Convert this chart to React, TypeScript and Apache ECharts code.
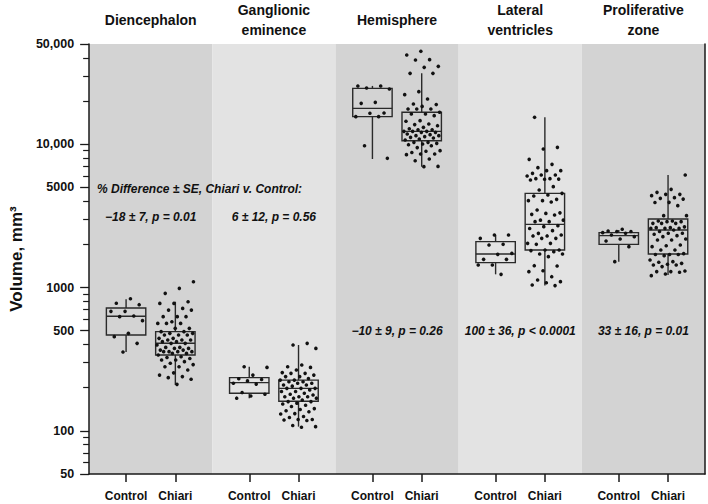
import React, { useEffect, useRef } from 'react';
import * as echarts from 'echarts';

// ---------- data ----------
const regions = ['Diencephalon', 'Ganglionic\neminence', 'Hemisphere', 'Lateral\nventricles', 'Proliferative\nzone'];
const groupLabels = ['Control', 'Chiari'];

const headerText = '% Difference ± SE, Chiari v. Control:';
const headerLevel = 4900;
const annotations = ['−18 ± 7, p = 0.01', '6 ± 12, p = 0.56', '−10 ± 9, p = 0.26', '100 ± 36, p < 0.0001', '33 ± 16, p = 0.01'];
const annotationLevels = [3100, 3100, 500, 500, 500];

// box statistics: [lower whisker, Q1, median, Q3, upper whisker] (mm³)
const controlBoxes = [
  [355, 466, 630, 719, 828],
  [169, 183, 217, 235, 280],
  [7880, 15560, 17790, 24530, 25500],
  [1236, 1491, 1713, 2089, 2325],
  [1515, 2001, 2301, 2414, 2520],
];
const chiariBoxes = [
  [209, 338, 408, 492, 796],
  [107, 161, 198, 226, 397],
  [6970, 10580, 12290, 16690, 31200],
  [1031, 1827, 2759, 4541, 15400],
  [1223, 1713, 2520, 3007, 6096],
];

// individual volumes (mm³)
const diencephalonControl = [835, 776, 759, 682, 682, 633, 626, 587, 479, 454, 408, 355];
const diencephalonChiari = [1098, 987, 911, 796, 775, 775, 715, 696, 696, 626, 626, 626, 577, 562, 562, 562, 519, 519, 492, 492, 479, 479, 466, 466, 466, 442, 442, 430, 430, 430, 419, 419, 408, 408, 397, 382, 382, 376, 376, 366, 366, 357, 357, 357, 357, 347, 347, 338, 329, 325, 320, 312, 312, 304, 296, 290, 280, 280, 266, 254, 245, 239, 235, 229, 211];
const ganglionicControl = [280, 277, 245, 231, 228, 223, 215, 212, 185, 180, 175, 169];
const ganglionicChiari = [408, 397, 376, 288, 280, 277, 266, 255, 252, 252, 245, 239, 239, 232, 226, 226, 220, 220, 215, 215, 209, 209, 205, 198, 198, 198, 193, 188, 188, 183, 180, 178, 173, 173, 173, 169, 169, 164, 160, 160, 156, 154, 151, 148, 143, 141, 138, 136, 132, 131, 126, 124, 120, 120, 119, 118, 109, 107, 106];
const hemisphereControl = [25460, 25460, 24650, 24250, 19590, 19280, 16500, 16450, 15560, 15560, 9760, 7970];
const hemisphereChiari = [44460, 41920, 38900, 38670, 34920, 34370, 31200, 31200, 23250, 22150, 20670, 19080, 18900, 18350, 17600, 17600, 17600, 16690, 16240, 16240, 15810, 14590, 14460, 13830, 13700, 13460, 13110, 12820, 12620, 12620, 12290, 12290, 12290, 12100, 12100, 11770, 11650, 11470, 11470, 11300, 11160, 11050, 10870, 10700, 10300, 10300, 10140, 10030, 9920, 9760, 9470, 9010, 8920, 8750, 8540, 8540, 8450, 7880, 7670, 7000, 6970];
const lateralControl = [2325, 2325, 2203, 2002, 1980, 1730, 1704, 1573, 1573, 1436, 1436, 1236];
const lateralChiari = [15400, 9509, 9256, 7839, 7236, 6859, 6535, 6535, 6260, 6097, 6097, 6000, 5750, 5750, 5710, 5690, 5626, 5054, 4791, 4541, 4422, 4351, 4122, 4036, 4036, 3950, 3474, 3320, 3290, 3241, 3208, 2950, 2950, 2880, 2880, 2700, 2659, 2580, 2492, 2388, 2325, 2290, 2290, 2203, 2203, 2034, 2034, 2002, 1827, 1827, 1810, 1779, 1713, 1713, 1642, 1420, 1413, 1310, 1290, 1190, 1129, 1099, 1080, 1041, 1031];
const proliferativeControl = [2550, 2479, 2460, 2460, 2414, 2392, 2323, 2263, 2180, 2111, 1928, 1515];
const proliferativeChiari = [6096, 4842, 4614, 4469, 4469, 4373, 4235, 4190, 4140, 3930, 3920, 3724, 3171, 3171, 2911, 2911, 2880, 2880, 2803, 2803, 2803, 2650, 2615, 2615, 2587, 2587, 2587, 2520, 2460, 2392, 2392, 2354, 2301, 2263, 2180, 2145, 2145, 1980, 1955, 1928, 1827, 1827, 1725, 1700, 1700, 1700, 1668, 1556, 1515, 1500, 1475, 1452, 1436, 1436, 1400, 1305, 1291, 1291, 1278, 1243, 1210];

const controlPoints = [diencephalonControl, ganglionicControl, hemisphereControl, lateralControl, proliferativeControl];
const chiariPoints = [diencephalonChiari, ganglionicChiari, hemisphereChiari, lateralChiari, proliferativeChiari];

const yMin = 50;
const yMax = 50000;
const majorTicks = [50, 100, 500, 1000, 5000, 10000, 50000];
const minorTicks = [60, 70, 80, 90, 200, 300, 400, 600, 700, 800, 900, 2000, 3000, 4000, 6000, 7000, 8000, 9000, 20000, 30000, 40000];

// ---------- helpers ----------
const L = (v: number) => Math.log10(v);
const CONTROL_POS = 0.3;
const CHIARI_POS = 0.7;
const HALF_BOX = 0.16;
const JITTER = 0.15;
const FONT = "'Liberation Sans', Arial, Helvetica, sans-serif";
const panelColors = ['#d3d3d3', '#e3e3e3'];

const fmt = (v: number) => {
  const n = Math.round(Math.pow(10, v));
  return n >= 10000 ? n.toLocaleString('en-US') : String(n);
};

function jittered(values: number[], center: number, seed: number) {
  return values.map((v, i) => {
    const f = ((i + 1) * 0.6180339887 + seed * 0.3719) % 1;
    return [center + (f - 0.5) * 2 * JITTER, L(v)];
  });
}

export default function App() {
  const ref = useRef<HTMLDivElement>(null);

  useEffect(() => {
    if (!ref.current) return;
    const chart = echarts.init(ref.current, undefined, { renderer: 'svg' });

    const boxData: number[][] = [];
    controlBoxes.forEach((b, i) => boxData.push([i + CONTROL_POS, ...b.map(L)]));
    chiariBoxes.forEach((b, i) => boxData.push([i + CHIARI_POS, ...b.map(L)]));

    const scatterData: number[][] = [];
    controlPoints.forEach((arr, i) => scatterData.push(...jittered(arr, i + CONTROL_POS, i * 2)));
    chiariPoints.forEach((arr, i) => scatterData.push(...jittered(arr, i + CHIARI_POS, i * 2 + 1)));

    const xTickVals: number[] = [];
    regions.forEach((_, i) => { xTickVals.push(i + CONTROL_POS, i + CHIARI_POS); });

    const yBase = {
      type: 'value' as const,
      min: L(yMin),
      max: L(yMax),
      splitLine: { show: false },
    };

    chart.setOption({
      animation: false,
      grid: { left: 81, right: 3, top: 44, bottom: 30 },
      xAxis: [
        {
          type: 'value',
          min: 0,
          max: 5,
          splitLine: { show: false },
          axisLine: { show: true, lineStyle: { color: '#1a1a1a', width: 1.5 } },
          axisTick: { show: true, customValues: xTickVals, length: 8, lineStyle: { color: '#1a1a1a', width: 1.5 } },
          axisLabel: {
            customValues: xTickVals,
            margin: 16,
            fontFamily: FONT,
            fontWeight: 'bold',
            fontSize: 12,
            color: '#111',
            formatter: (v: number) => (Math.round((v - Math.floor(v)) * 10) === 3 ? groupLabels[0] : groupLabels[1]),
          },
        },
        {
          type: 'value',
          position: 'top',
          min: 0,
          max: 5,
          splitLine: { show: false },
          axisLine: { show: false },
          axisTick: { show: false },
          axisLabel: {
            customValues: regions.map((_, i) => i + 0.5),
            margin: 24,
            verticalAlign: 'middle',
            lineHeight: 20,
            fontFamily: FONT,
            fontWeight: 'bold',
            fontSize: 14,
            color: '#111',
            formatter: (v: number) => regions[Math.floor(v)],
          },
        },
      ],
      yAxis: [
        {
          ...yBase,
          position: 'left',
          name: 'Volume, mm³',
          nameLocation: 'middle',
          nameGap: 52,
          nameTextStyle: { fontFamily: FONT, fontWeight: 'bold', fontSize: 17, color: '#111' },
          axisLine: { show: true, lineStyle: { color: '#1a1a1a', width: 1.5 } },
          axisTick: { show: true, customValues: majorTicks.map(L), length: 9, lineStyle: { color: '#1a1a1a', width: 1.3 } },
          axisLabel: {
            customValues: majorTicks.map(L),
            margin: 15,
            fontFamily: FONT,
            fontWeight: 'bold',
            fontSize: 12.5,
            color: '#111',
            formatter: fmt,
          },
        },
        {
          ...yBase,
          position: 'left',
          axisLine: { show: false },
          axisTick: { show: true, customValues: minorTicks.map(L), length: 6, lineStyle: { color: '#1a1a1a', width: 1.2 } },
          axisLabel: { show: false },
        },
        {
          ...yBase,
          position: 'right',
          axisLine: { show: true, lineStyle: { color: '#1a1a1a', width: 1.5 } },
          axisTick: { show: false },
          axisLabel: { show: false },
        },
      ],
      series: [
        {
          type: 'custom',
          name: 'panels',
          silent: true,
          z: 0,
          data: regions.map((_, i) => [i, L(yMin), L(yMax)]),
          encode: { x: 0, y: [1, 2] },
          renderItem: (params: any, api: any) => {
            const i = api.value(0);
            const p1 = api.coord([i, L(yMax)]);
            const p2 = api.coord([i + 1, L(yMin)]);
            return {
              type: 'rect',
              shape: { x: p1[0], y: p1[1], width: p2[0] - p1[0], height: p2[1] - p1[1] },
              style: { fill: panelColors[i % 2] },
            };
          },
        },
        {
          type: 'custom',
          name: 'annotations',
          silent: true,
          z: 2,
          data: [[0.064, L(headerLevel)], ...annotations.map((_, i) => [i + 0.5, L(annotationLevels[i])])],
          encode: { x: 0, y: 1 },
          renderItem: (params: any, api: any) => {
            const idx = params.dataIndex;
            const p = api.coord([api.value(0), api.value(1)]);
            return {
              type: 'text',
              x: p[0],
              y: p[1],
              style: {
                text: idx === 0 ? headerText : annotations[idx - 1],
                align: idx === 0 ? 'left' : 'center',
                verticalAlign: 'middle',
                font: `italic bold 12px ${FONT}`,
                fill: '#111',
              },
            };
          },
        },
        {
          type: 'custom',
          name: 'boxes',
          silent: true,
          z: 3,
          data: boxData,
          encode: { x: 0, y: [1, 2, 3, 4, 5] },
          renderItem: (params: any, api: any) => {
            const x = api.value(0);
            const lo = api.coord([x, api.value(1)]);
            const q1 = api.coord([x - HALF_BOX, api.value(2)]);
            const med = api.coord([x - HALF_BOX, api.value(3)]);
            const q3 = api.coord([x + HALF_BOX, api.value(4)]);
            const hi = api.coord([x, api.value(5)]);
            const left = q1[0];
            const right = q3[0];
            const stroke = { stroke: '#2a2a2a', lineWidth: 1.4, fill: 'none' };
            return {
              type: 'group',
              children: [
                { type: 'line', shape: { x1: lo[0], y1: lo[1], x2: lo[0], y2: q1[1] }, style: stroke },
                { type: 'line', shape: { x1: hi[0], y1: hi[1], x2: hi[0], y2: q3[1] }, style: stroke },
                { type: 'rect', shape: { x: left, y: q3[1], width: right - left, height: q1[1] - q3[1] }, style: stroke },
                { type: 'line', shape: { x1: left, y1: med[1], x2: right, y2: med[1] }, style: stroke },
              ],
            };
          },
        },
        {
          type: 'scatter',
          name: 'subjects',
          silent: true,
          z: 4,
          symbol: 'circle',
          symbolSize: 3.6,
          itemStyle: { color: '#111', opacity: 1 },
          data: scatterData,
        },
      ],
    });

    return () => chart.dispose();
  }, []);

  return (
    <div
      ref={ref}
      style={{ position: 'fixed', left: 0, top: 0, width: 708, height: 504, background: '#ffffff' }}
    />
  );
}
